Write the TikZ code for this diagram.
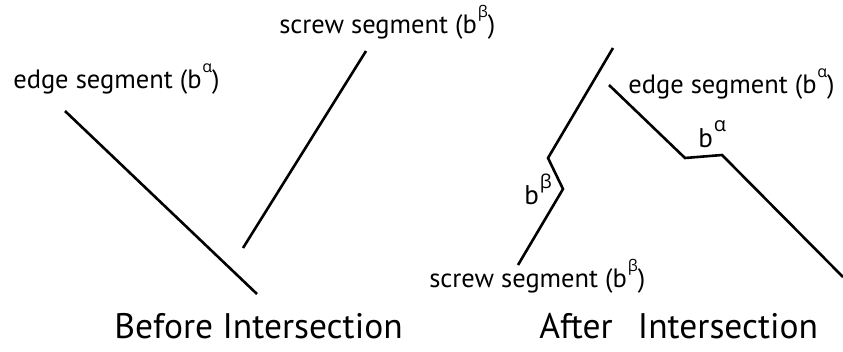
\documentclass[tikz,border=0pt]{standalone}
\usepackage{fontspec}
\setmainfont{PT Sans}
\newfontfamily\greekfont{Open Sans}
\newcommand{\bvec}[2][16]{b\raisebox{0.58em}{\greekfont\fontsize{#1}{#1}\selectfont\kern0.05em #2}}

\begin{document}
\begin{tikzpicture}[x=1pt, y=-1pt, line width=2.6pt]
  \tikzset{
    label/.style={anchor=base west, inner sep=0pt, font=\fontsize{26.5}{26.5}\selectfont},
    title/.style={anchor=base west, inner sep=0pt, font=\fontsize{35.5}{35.5}\selectfont},
    jog/.style={anchor=base west, inner sep=0pt, font=\fontsize{27}{27}\selectfont}
  }
  \useasboundingbox (0,0) rectangle (843,351);

  % before intersection
  \coordinate (EA) at (65,111);
  \coordinate (EB) at (257,294);
  \coordinate (SA) at (243,248);
  \coordinate (SB) at (366,51);

  \draw (EA) -- (EB);
  \draw (SA) -- (SB);

  \node[label] (edgeL) at (12,88) {edge segment (\bvec{α})};
  \node[label] (screwL) at (278,33) {screw segment (\bvec{β})};
  \node[title] (before) at (113,338) {Before Intersection};

  % after intersection
  \coordinate (S1) at (518,265);
  \coordinate (S2) at (563,189);
  \coordinate (S3) at (548,158);
  \coordinate (S4) at (613,48);
  \coordinate (E1) at (609,85);
  \coordinate (E2) at (685,158);
  \coordinate (E3) at (722,155);
  \coordinate (E4) at (843,277);

  \draw (S1) -- (S2) -- (S3) -- (S4);
  \draw (E1) -- (E2) -- (E3) -- (E4);

  \node[label] (edgeR) at (627,93) {edge segment (\bvec{α})};
  \node[label] (screwR) at (428,287) {screw segment (\bvec{β})};
  \node[jog] (jogA) at (697,147) {\bvec[20]{α}};
  \node[jog] (jogB) at (523,204) {\bvec[19]{β}};
  \node[title] (after) at (538,338) {After\hspace{0.45em} Intersection};
\end{tikzpicture}
\end{document}
